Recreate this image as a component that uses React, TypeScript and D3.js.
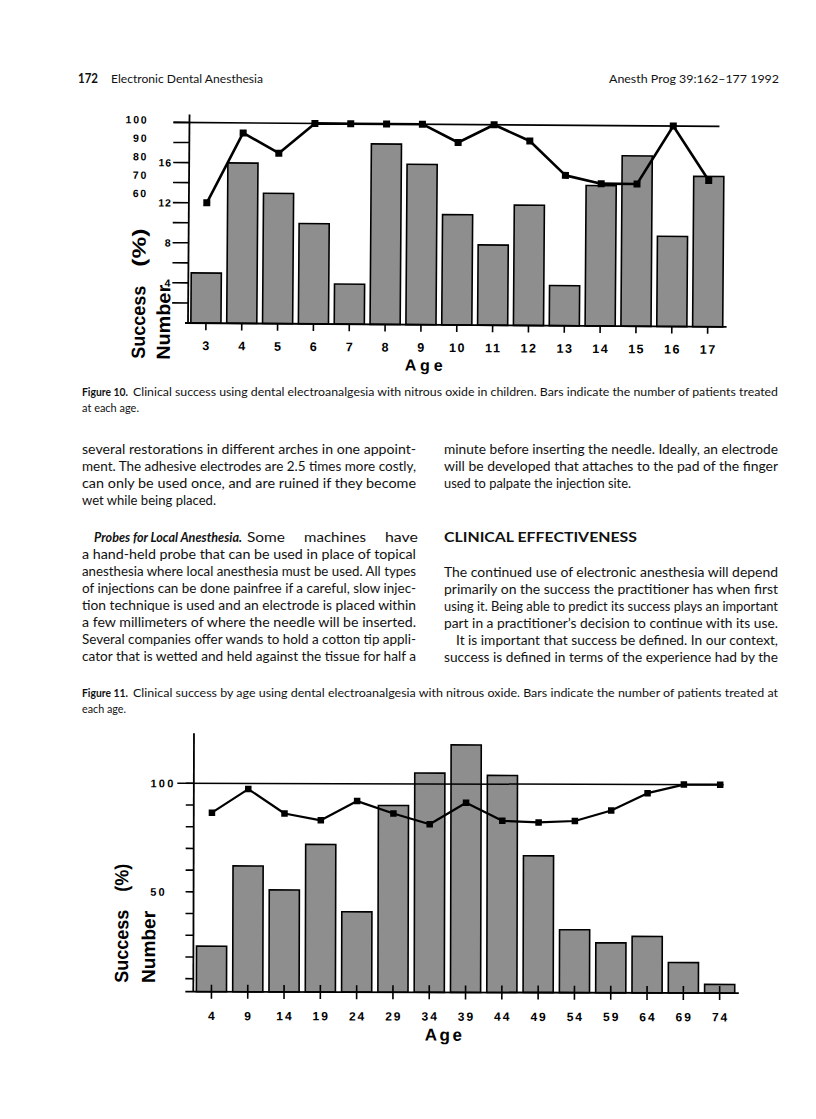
import React from 'react';
import * as d3 from 'd3';

// ---------- Figure 10 data ----------
const ages1 = ['3', '4', '5', '6', '7', '8', '9', '10', '11', '12', '13', '14', '15', '16', '17'];
const number1 = [5, 16, 13, 10, 4, 18, 16, 11, 8, 12, 4, 14, 17, 9, 15];
const success1 = [60, 95, 85, 100, 100, 100, 100, 91, 100, 92, 75, 71, 71, 100, 73];
const numTickLabels1 = [4, 8, 12, 16];
const successTickLabels1 = [100, 90, 80, 70, 60];

// ---------- Figure 11 data ----------
const ages2 = ['4', '9', '14', '19', '24', '29', '34', '39', '44', '49', '54', '59', '64', '69', '74'];
const number2 = [25, 62, 51, 72, 41, 90, 105, 118, 104, 67, 33, 27, 30, 18, 8];
const success2 = [86.5, 97.4, 86.2, 83.1, 92, 86.3, 81.4, 91.4, 83.1, 82.4, 83.1, 88, 96, 100, 100];
const tickLabels2 = [100, 50];

// ---------- page text ----------
const headerLeftNum = '172';
const headerLeft = 'Electronic Dental Anesthesia';
const headerRight = 'Anesth Prog 39:162\u2013177 1992';
const fig10Label = 'Figure 10.';
const fig10Line1 = 'Clinical success using dental electroanalgesia with nitrous oxide in children. Bars indicate the number of patients treated';
const fig10Line2 = 'at each age.';
const fig11Label = 'Figure 11.';
const fig11Line1 = 'Clinical success by age using dental electroanalgesia with nitrous oxide. Bars indicate the number of patients treated at';
const fig11Line2 = 'each age.';
const leftPara1 = [
  'several restorations in different arches in one appoint-',
  'ment. The adhesive electrodes are 2.5 times more costly,',
  'can only be used once, and are ruined if they become',
  'wet while being placed.',
];
const probesHead = 'Probes for Local Anesthesia.';
const probesFirstWords = ['Some', 'machines', 'have'];
const leftPara2 = [
  'a hand-held probe that can be used in place of topical',
  'anesthesia where local anesthesia must be used. All types',
  'of injections can be done painfree if a careful, slow injec-',
  'tion technique is used and an electrode is placed within',
  'a few millimeters of where the needle will be inserted.',
  'Several companies offer wands to hold a cotton tip appli-',
  'cator that is wetted and held against the tissue for half a',
];
const rightPara1 = [
  'minute before inserting the needle. Ideally, an electrode',
  'will be developed that attaches to the pad of the finger',
  'used to palpate the injection site.',
];
const rightHead = 'CLINICAL EFFECTIVENESS';
const rightPara2 = [
  'The continued use of electronic anesthesia will depend',
  'primarily on the success the practitioner has when first',
  'using it. Being able to predict its success plays an important',
  'part in a practitioner\u2019s decision to continue with its use.',
  'It is important that success be defined. In our context,',
  'success is defined in terms of the experience had by the',
];

const CHART_FONT = "'Liberation Sans', Arial, Helvetica, sans-serif";
const BODY_FONT = "Lato, 'Open Sans', 'DejaVu Sans', sans-serif";
const BAR_FILL = '#8e8e8e';

function T(props: any) {
  const { x, y, w, children, size = 12.5, weight = 400, italic = false, family = BODY_FONT } = props;
  return (
    <text
      x={x}
      y={y}
      fontFamily={family}
      fontSize={size}
      fontWeight={weight}
      fontStyle={italic ? 'italic' : 'normal'}
      textLength={w}
      lengthAdjust="spacingAndGlyphs"
      fill="#111"
    >
      {children}
    </text>
  );
}

function Chart1() {
  const axisX = 188;
  const baseY = 323;
  const x = d3
    .scaleBand<string>()
    .domain(ages1)
    .range([axisX, axisX + 15 * 35.84])
    .paddingInner(0.16)
    .paddingOuter(0.08);
  const y = d3.scaleLinear().domain([0, 20]).range([baseY, 122.5]);
  const pctY = (p: number) => y(p / 5);
  const cx = (a: string) => (x(a) as number) + x.bandwidth() / 2;
  const sLabel = d3.scaleLinear().domain([60, 100]).range([y(12.9), y(20.25)]);
  const linePath = d3
    .line<number>()
    .x((_, i) => cx(ages1[i]))
    .y((d) => pctY(d))(success1);
  const ticks = d3.range(2, 21, 2);
  const ms = 7;
  return (
    <g transform={`rotate(0.42 ${axisX} ${baseY})`} fontFamily={CHART_FONT}>
      {number1.map((v, i) => (
        <rect
          key={ages1[i]}
          x={x(ages1[i])}
          y={y(v)}
          width={x.bandwidth()}
          height={baseY - y(v)}
          fill={BAR_FILL}
          stroke="#000"
          strokeWidth={1.6}
        />
      ))}
      <line x1={axisX} x2={axisX} y1={baseY} y2={y(20.8)} stroke="#000" strokeWidth={1.8} />
      <line x1={axisX - 3} x2={axisX + 15 * 35.84 + 1} y1={baseY} y2={baseY} stroke="#000" strokeWidth={1.8} />
      {ticks.map((t) => (
        <line key={t} x1={axisX - 16} x2={axisX} y1={y(t)} y2={y(t)} stroke="#000" strokeWidth={1.6} />
      ))}
      <line x1={axisX - 16} x2={718} y1={y(20)} y2={y(20)} stroke="#000" strokeWidth={1.6} />
      {ages1.map((a) => (
        <line key={a} x1={cx(a)} x2={cx(a)} y1={baseY} y2={baseY + 7} stroke="#000" strokeWidth={1.6} />
      ))}
      {numTickLabels1.map((t) => (
        <text key={t} x={171} y={y(t) + 4} textAnchor="end" fontSize={10.5} fontWeight={700} letterSpacing={1}>
          {t}
        </text>
      ))}
      {successTickLabels1.map((t) => (
        <text key={t} x={147} y={sLabel(t) + 3.8} textAnchor="end" fontSize={10.5} fontWeight={700} letterSpacing={1.8}>
          {t}
        </text>
      ))}
      {ages1.map((a) => (
        <text key={a} x={cx(a) + 0.8} y={350} textAnchor="middle" fontSize={12.5} fontWeight={700} letterSpacing={1.5}>
          {a}
        </text>
      ))}
      <path d={linePath as string} fill="none" stroke="#000" strokeWidth={2.6} strokeLinejoin="round" />
      {success1.map((v, i) => (
        <rect key={i} x={cx(ages1[i]) - ms / 2} y={pctY(v) - ms / 2} width={ms} height={ms} fill="#000" />
      ))}
      <text x={405} y={369} fontSize={16} fontWeight={700} textLength={38} lengthAdjust="spacing">Age</text>
      <text transform="translate(145,359) rotate(-90)" fontSize={19} fontWeight={700} textLength={73} lengthAdjust="spacingAndGlyphs">Success</text>
      <text transform="translate(145,267) rotate(-90)" fontSize={19} fontWeight={700} textLength={38} lengthAdjust="spacingAndGlyphs">(%)</text>
      <text transform="translate(170,360) rotate(-90)" fontSize={19} fontWeight={700} textLength={75} lengthAdjust="spacingAndGlyphs">Number</text>
    </g>
  );
}

function Chart2() {
  const axisX = 193.3;
  const baseY = 991.7;
  const x = d3
    .scaleBand<string>()
    .domain(ages2)
    .range([axisX, axisX + 15 * 36.3])
    .paddingInner(0.17)
    .paddingOuter(0.085);
  const y = d3.scaleLinear().domain([4, 100]).range([baseY, 783.3]);
  const cx = (a: string) => (x(a) as number) + x.bandwidth() / 2;
  const linePath = d3
    .line<number>()
    .x((_, i) => cx(ages2[i]))
    .y((d) => y(d))(success2);
  const ticks = d3.range(10, 101, 10);
  const ms = 6.5;
  return (
    <g transform={`rotate(0.15 ${axisX} ${baseY})`} fontFamily={CHART_FONT}>
      {number2.map((v, i) => (
        <rect
          key={ages2[i]}
          x={x(ages2[i])}
          y={y(v)}
          width={x.bandwidth()}
          height={baseY - y(v)}
          fill={BAR_FILL}
          stroke="#000"
          strokeWidth={1.6}
        />
      ))}
      <line x1={axisX} x2={axisX} y1={baseY} y2={y(123)} stroke="#000" strokeWidth={1.8} />
      <line x1={axisX - 8} x2={axisX + 15 * 36.3 + 1} y1={baseY} y2={baseY} stroke="#000" strokeWidth={1.8} />
      {ticks.map((t) => (
        <line key={t} x1={axisX - 8} x2={axisX} y1={y(t)} y2={y(t)} stroke="#000" strokeWidth={1.6} />
      ))}
      <line x1={axisX - 16.5} x2={723} y1={y(100)} y2={y(100)} stroke="#000" strokeWidth={1.5} />
      {ages2.map((a) => (
        <line key={a} x1={cx(a)} x2={cx(a)} y1={baseY - 7} y2={baseY + 7} stroke="#000" strokeWidth={1.6} />
      ))}
      {tickLabels2.map((t) => (
        <text key={t} x={150} y={y(t) + 4} fontSize={11} fontWeight={700} letterSpacing={2.2}>
          {t}
        </text>
      ))}
      {ages2.map((a) => (
        <text key={a} x={cx(a) + 1} y={1020} textAnchor="middle" fontSize={12} fontWeight={700} letterSpacing={2}>
          {a}
        </text>
      ))}
      <path d={linePath as string} fill="none" stroke="#000" strokeWidth={2.2} strokeLinejoin="round" />
      {success2.map((v, i) => (
        <rect key={i} x={cx(ages2[i]) - ms / 2} y={y(v) - ms / 2} width={ms} height={ms} fill="#000" />
      ))}
      <text x={425} y={1040} fontSize={17} fontWeight={700} textLength={37} lengthAdjust="spacing">Age</text>
      <text transform="translate(128,983) rotate(-90)" fontSize={19} fontWeight={700} textLength={73} lengthAdjust="spacingAndGlyphs">Success</text>
      <text transform="translate(128,892) rotate(-90)" fontSize={19} fontWeight={700} textLength={28} lengthAdjust="spacingAndGlyphs">(%)</text>
      <text transform="translate(155,983) rotate(-90)" fontSize={19} fontWeight={700} textLength={72} lengthAdjust="spacingAndGlyphs">Number</text>
    </g>
  );
}

export default function App() {
  const lead = 17;
  const L = 82;
  const R = 444;
  const CW = 334;
  const leftP1W = [CW, CW, CW, 134];
  const rightP1W = [CW, CW, 187];
  const p1Y = 454;
  const probesY = 542;
  const rightBodyY = 577;
  // word boxes for the justified remainder of the "Probes" line
  const wordX = [247, 304, 385];
  const wordW = [38, 62, 33];
  return (
    <svg
      width={816}
      height={1119}
      viewBox="0 0 816 1119"
      style={{ position: 'absolute', left: 0, top: 0, background: '#fff' }}
    >
      <rect width={816} height={1119} fill="#fff" />

      {/* header */}
      <T x={78} y={83} w={20} size={12.5} weight={700}>{headerLeftNum}</T>
      <T x={111} y={83} w={152} size={12}>{headerLeft}</T>
      <T x={609} y={83} w={170} size={12}>{headerRight}</T>

      <Chart1 />

      {/* Figure 10 caption */}
      <T x={L} y={396} w={46} size={11} weight={700}>{fig10Label}</T>
      <T x={133} y={396} w={778 - 133} size={11}>{fig10Line1}</T>
      <T x={L} y={412} w={57} size={11}>{fig10Line2}</T>

      {/* left column */}
      {leftPara1.map((s, i) => (
        <T key={s} x={L} y={p1Y + i * lead} w={leftP1W[i]}>{s}</T>
      ))}
      <T x={94} y={probesY} w={148} weight={700} italic>{probesHead}</T>
      {probesFirstWords.map((wd, i) => (
        <T key={wd} x={wordX[i]} y={probesY} w={wordW[i]}>{wd}</T>
      ))}
      {leftPara2.map((s, i) => (
        <T key={s} x={L} y={probesY + (i + 1) * lead} w={CW}>{s}</T>
      ))}

      {/* right column */}
      {rightPara1.map((s, i) => (
        <T key={s} x={R} y={p1Y + i * lead} w={rightP1W[i]}>{s}</T>
      ))}
      <T x={R} y={probesY} w={193} size={13} weight={700}>{rightHead}</T>
      {rightPara2.map((s, i) => (
        <T key={s} x={i === 4 ? R + 12 : R} y={rightBodyY + i * lead} w={i === 4 ? CW - 12 : CW}>{s}</T>
      ))}

      {/* Figure 11 caption */}
      <T x={L} y={697} w={46} size={11} weight={700}>{fig11Label}</T>
      <T x={133} y={697} w={778 - 133} size={11}>{fig11Line1}</T>
      <T x={L} y={713} w={44} size={11}>{fig11Line2}</T>

      <Chart2 />
    </svg>
  );
}
